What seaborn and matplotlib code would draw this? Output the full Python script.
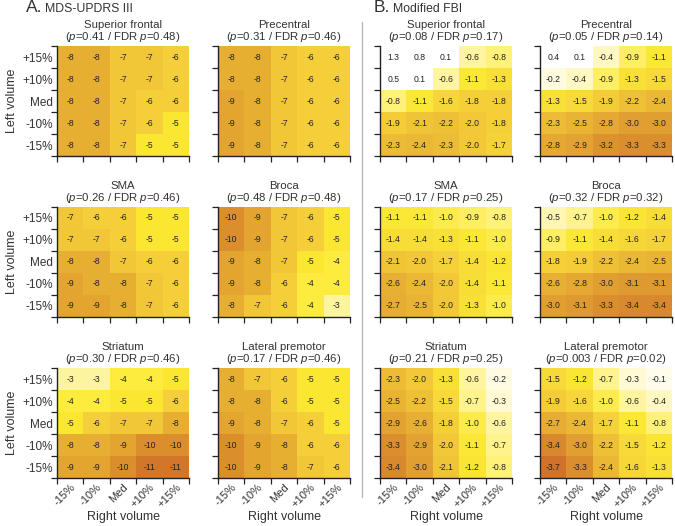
import numpy as np
import matplotlib
matplotlib.use('Agg')
import matplotlib.pyplot as plt
import seaborn as sns
from matplotlib.colors import LinearSegmentedColormap
from matplotlib.lines import Line2D

# --- dados (linhas: esquerda +15% .. -15%; colunas: direita -15% .. +15%) ---
rotulos_y = ['+15%', '+10%', 'Med', '-10%', '-15%']
rotulos_x = ['-15%', '-10%', 'Med', '+10%', '+15%']

regioes = ['Superior frontal', 'Precentral', 'SMA', 'Broca', 'Striatum', 'Lateral premotor']

p_updrs = [('0.41', '0.48'), ('0.31', '0.46'), ('0.26', '0.46'), ('0.48', '0.48'), ('0.30', '0.46'), ('0.17', '0.46')]
p_fbi = [('0.08', '0.17'), ('0.05', '0.14'), ('0.17', '0.25'), ('0.32', '0.32'), ('0.21', '0.25'), ('0.003', '0.02')]

updrs_sup_frontal = [[-8, -8, -7, -7, -6], [-8, -8, -7, -7, -6], [-8, -8, -7, -6, -6],
                     [-8, -8, -7, -6, -5], [-8, -8, -7, -5, -5]]
updrs_precentral = [[-8, -8, -7, -6, -6], [-8, -8, -7, -6, -6], [-9, -8, -7, -6, -6],
                    [-9, -8, -7, -6, -6], [-9, -8, -7, -6, -6]]
updrs_sma = [[-7, -6, -6, -5, -5], [-7, -7, -6, -5, -5], [-8, -8, -7, -6, -6],
             [-9, -8, -8, -7, -6], [-9, -9, -8, -7, -6]]
updrs_broca = [[-10, -9, -7, -6, -5], [-10, -9, -7, -6, -5], [-9, -8, -7, -5, -4],
               [-9, -8, -6, -4, -4], [-8, -7, -6, -4, -3]]
updrs_striatum = [[-3, -3, -4, -4, -5], [-4, -4, -5, -5, -6], [-5, -6, -7, -7, -8],
                  [-8, -8, -9, -10, -10], [-9, -9, -10, -11, -11]]
updrs_lat_premotor = [[-8, -7, -6, -5, -5], [-8, -8, -6, -5, -5], [-9, -8, -7, -6, -5],
                      [-10, -9, -8, -6, -6], [-10, -9, -8, -7, -6]]

fbi_sup_frontal = [[1.3, 0.8, 0.1, -0.6, -0.8], [0.5, 0.1, -0.6, -1.1, -1.3], [-0.8, -1.1, -1.6, -1.8, -1.8],
                   [-1.9, -2.1, -2.2, -2.0, -1.8], [-2.3, -2.4, -2.3, -2.0, -1.7]]
fbi_precentral = [[0.4, 0.1, -0.4, -0.9, -1.1], [-0.2, -0.4, -0.9, -1.3, -1.5], [-1.3, -1.5, -1.9, -2.2, -2.4],
                  [-2.3, -2.5, -2.8, -3.0, -3.0], [-2.8, -2.9, -3.2, -3.3, -3.3]]
fbi_sma = [[-1.1, -1.1, -1.0, -0.9, -0.8], [-1.4, -1.4, -1.3, -1.1, -1.0], [-2.1, -2.0, -1.7, -1.4, -1.2],
           [-2.6, -2.4, -2.0, -1.4, -1.1], [-2.7, -2.5, -2.0, -1.3, -1.0]]
fbi_broca = [[-0.5, -0.7, -1.0, -1.2, -1.4], [-0.9, -1.1, -1.4, -1.6, -1.7], [-1.8, -1.9, -2.2, -2.4, -2.5],
             [-2.6, -2.8, -3.0, -3.1, -3.1], [-3.0, -3.1, -3.3, -3.4, -3.4]]
fbi_striatum = [[-2.3, -2.0, -1.3, -0.6, -0.2], [-2.5, -2.2, -1.5, -0.7, -0.3], [-2.9, -2.6, -1.8, -1.0, -0.6],
                [-3.3, -2.9, -2.0, -1.1, -0.7], [-3.4, -3.0, -2.1, -1.2, -0.8]]
fbi_lat_premotor = [[-1.5, -1.2, -0.7, -0.3, -0.1], [-1.9, -1.6, -1.0, -0.6, -0.4], [-2.7, -2.4, -1.7, -1.1, -0.8],
                    [-3.4, -3.0, -2.2, -1.5, -1.2], [-3.7, -3.3, -2.4, -1.6, -1.3]]

dados_updrs = [updrs_sup_frontal, updrs_precentral, updrs_sma, updrs_broca, updrs_striatum, updrs_lat_premotor]
dados_fbi = [fbi_sup_frontal, fbi_precentral, fbi_sma, fbi_broca, fbi_striatum, fbi_lat_premotor]

# --- estilo ---
sns.set_style('white')
plt.rcParams['font.family'] = ['Liberation Sans', 'DejaVu Sans']
plt.rcParams['mathtext.fontset'] = 'custom'
plt.rcParams['mathtext.it'] = 'Liberation Sans:italic'
plt.rcParams['mathtext.rm'] = 'Liberation Sans'
cor_texto = '#333333'


def mapa(ancoras):
    vmin, vmax = ancoras[0][0], ancoras[-1][0]
    pts = [((v - vmin) / (vmax - vmin), c) for v, c in ancoras]
    return LinearSegmentedColormap.from_list('m', pts), vmin, vmax


cmap_a, vmin_a, vmax_a = mapa([(-11, '#d2772a'), (-10, '#da8f2c'), (-9, '#e3a52f'), (-8, '#e7af31'),
                               (-7, '#f1c637'), (-6, '#f4cf39'), (-5, '#fbe631'), (-4, '#fdec3a'),
                               (-3, '#fdf4a0')])
cmap_b, vmin_b, vmax_b = mapa([(-3.7, '#d0722a'), (-3.4, '#d8882d'), (-3.0, '#e1a032'), (-2.5, '#e9b434'),
                               (-2.0, '#f2c838'), (-1.5, '#f7d939'), (-1.1, '#fbe834'), (-0.8, '#fff17a'),
                               (-0.5, '#fff6b4'), (-0.2, '#fffbe0'), (0.1, '#ffffff'), (1.3, '#ffffff')])

W, H = 675, 526
fig = plt.figure(figsize=(W / 100, H / 100), dpi=100)

cols_x = [57, 218, 380, 540]
rows_y = [46, 207, 368]
larg, alt = 132, 110

for secao, (dados, pvals, cmap, vmin, vmax, fmt) in enumerate([
        (dados_updrs, p_updrs, cmap_a, vmin_a, vmax_a, 'd'),
        (dados_fbi, p_fbi, cmap_b, vmin_b, vmax_b, '.1f')]):
    for i in range(6):
        r, c = i // 2, i % 2 + 2 * secao
        x0, y0 = cols_x[c], rows_y[r]
        ax = fig.add_axes([x0 / W, 1 - (y0 + alt) / H, larg / W, alt / H])
        arr = np.array(dados[i])
        sns.heatmap(arr, ax=ax, cmap=cmap, vmin=vmin, vmax=vmax, cbar=False,
                    annot=True, fmt=fmt, annot_kws={'fontsize': 6.2, 'color': '#222222'})

        # título em duas linhas
        xc = (x0 + larg / 2) / W
        fig.text(xc, 1 - (y0 - 18) / H, regioes[i], ha='center', va='baseline',
                 fontsize=8.2, color=cor_texto)
        fig.text(xc, 1 - (y0 - 6) / H, f'($p$={pvals[i][0]} / FDR $p$={pvals[i][1]})',
                 ha='center', va='baseline', fontsize=8.2, color=cor_texto)

        ax.set_xticks(np.arange(6))
        ax.set_yticks(np.arange(6))
        ax.set_xticklabels([])
        ax.set_yticklabels([])
        ax.set_xticks(np.arange(5) + 0.5, minor=True)
        ax.set_yticks(np.arange(5) + 0.5, minor=True)
        if r == 2:
            ax.set_xticklabels(rotulos_x, minor=True, rotation=45, ha='right',
                               rotation_mode='anchor', fontsize=8, color=cor_texto)
            ax.set_xlabel('Right volume', fontsize=9, color=cor_texto, labelpad=1)
        if c == 0:
            ax.set_yticklabels(rotulos_y, minor=True, rotation=0, fontsize=8.5, color=cor_texto)
            ax.set_ylabel('Left volume', fontsize=9, color=cor_texto, labelpad=3)
        ax.tick_params(which='major', length=4, width=0.9, color='#222222', direction='out',
                       bottom=True, left=True)
        ax.tick_params(which='minor', length=0, pad=3)
        for lado in ['left', 'bottom']:
            ax.spines[lado].set_visible(True)
            ax.spines[lado].set_color('#222222')
            ax.spines[lado].set_linewidth(1.0)
        for lado in ['top', 'right']:
            ax.spines[lado].set_visible(False)

# títulos das seções
fig.text(26 / W, 1 - 12 / H, 'A.', fontsize=12.5, color=cor_texto, va='baseline')
fig.text(45 / W, 1 - 12 / H, 'MDS-UPDRS III', fontsize=8.8, color=cor_texto, va='baseline')
fig.text(374 / W, 1 - 12 / H, 'B.', fontsize=12.5, color=cor_texto, va='baseline')
fig.text(393 / W, 1 - 12 / H, 'Modified FBI', fontsize=8.8, color=cor_texto, va='baseline')

# divisória
fig.add_artist(Line2D([362 / W, 362 / W], [1 - 22 / H, 1 - 497 / H], color='#b8b8b8', lw=1.0))

fig.savefig('out.png', dpi=100)
